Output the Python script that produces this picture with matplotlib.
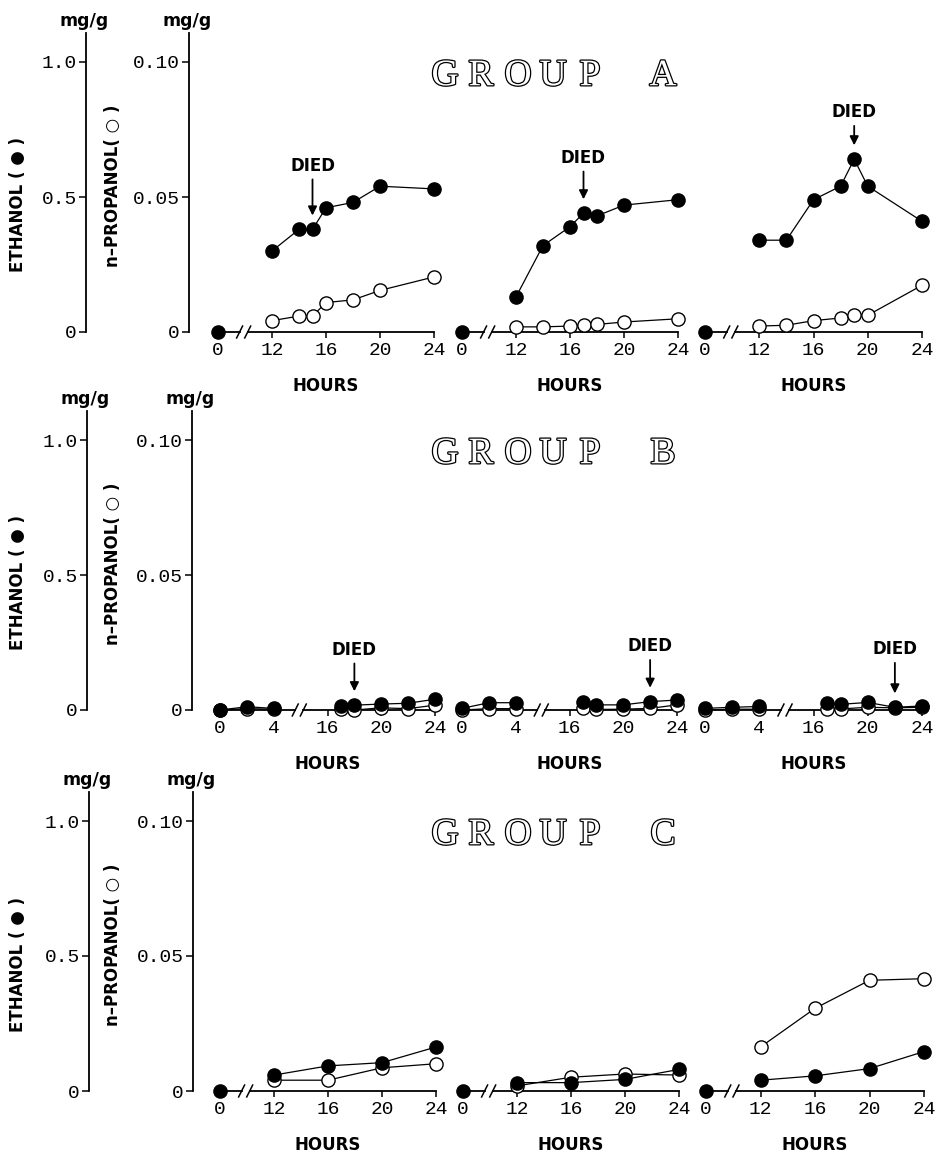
import numpy as np
import matplotlib
matplotlib.use("Agg")
import matplotlib.pyplot as plt
from matplotlib import patheffects
from matplotlib.transforms import offset_copy

# ---- data (hours, mg/g) ----
groups = ["A", "B", "C"]

eth_hours = [
    [[0, 12, 14, 15, 16, 18, 20, 24], [0, 12, 14, 16, 17, 18, 20, 24], [0, 12, 14, 16, 18, 19, 20, 24]],
    [[0, 2, 4, 17, 18, 20, 22, 24], [0, 2, 4, 17, 18, 20, 22, 24], [0, 2, 4, 17, 18, 20, 22, 24]],
    [[0, 12, 16, 20, 24], [0, 12, 16, 20, 24], [0, 12, 16, 20, 24]],
]
eth_vals = [
    [[0, 0.30, 0.38, 0.38, 0.46, 0.48, 0.54, 0.53],
     [0, 0.13, 0.32, 0.39, 0.44, 0.43, 0.47, 0.49],
     [0, 0.34, 0.34, 0.49, 0.54, 0.64, 0.54, 0.41]],
    [[0, 0.012, 0.006, 0.015, 0.018, 0.022, 0.025, 0.040],
     [0.006, 0.027, 0.027, 0.031, 0.019, 0.019, 0.031, 0.037],
     [0.006, 0.010, 0.013, 0.025, 0.021, 0.028, 0.010, 0.015]],
    [[0, 0.059, 0.093, 0.105, 0.163],
     [0, 0.031, 0.031, 0.043, 0.080],
     [0, 0.040, 0.056, 0.083, 0.146]],
]
prop_hours = [
    [[12, 14, 15, 16, 18, 20, 24], [12, 14, 16, 17, 18, 20, 24], [12, 14, 16, 18, 19, 20, 24]],
    [[0, 2, 4, 17, 18, 20, 22, 24], [0, 2, 4, 17, 18, 20, 22, 24], [0, 2, 4, 17, 18, 20, 22, 24]],
    [[12, 16, 20, 24], [12, 16, 20, 24], [12, 16, 20, 24]],
]
prop_vals = [
    [[0.0042, 0.0059, 0.0059, 0.0109, 0.0119, 0.0154, 0.0204],
     [0.0019, 0.0019, 0.0022, 0.0027, 0.0028, 0.0037, 0.0049],
     [0.0022, 0.0025, 0.0042, 0.0052, 0.0062, 0.0062, 0.0173]],
    [[0, 0.0005, 0.0003, 0.0005, 0.0, 0.0008, 0.0005, 0.0018],
     [0, 0.0005, 0.0005, 0.0006, 0.0002, 0.0003, 0.0006, 0.0019],
     [0, 0.0003, 0.0003, 0.0004, 0.0004, 0.0010, 0.0008, 0.0010]],
    [[0.0040, 0.0040, 0.0086, 0.0101],
     [0.0019, 0.0051, 0.0063, 0.0059],
     [0.0163, 0.0306, 0.0410, 0.0416]],
]
died_hours = [[15, 17, 19], [18, 22, 22], [None, None, None]]
tick_hours = [[0, 12, 16, 20, 24], [0, 4, 16, 20, 24], [0, 12, 16, 20, 24]]
break_hour = [1.9, 5.9, 1.9]

# ---- layout (pixels) ----
W, H = 936, 1163
zero_px = [332, 710, 1091]
px_per_unit = 2700.0          # pixels per 1 mg/g of n-propanol
span_px = 299
YTOP = span_px / px_per_unit
x0_px = [[218, 462, 705], [220, 462, 705], [220, 463, 706]]
x24_px = [[434, 678, 922], [435, 677, 922], [436, 679, 924]]
eth_spine_x = [86, 87, 89]
prop_spine_x = [189, 192, 193]
title_x = [445, 481, 518, 553, 590, 663]
died_gap = [[46, 40, 34], [40, 40, 42], [40, 40, 40]]   # label height above point, pt

MONO = "Liberation Mono"
SANS = "DejaVu Sans"

fig = plt.figure(figsize=(W / 100, H / 100), dpi=100)


def rect(left, right, top, bottom):
    return [left / W, 1 - bottom / H, (right - left) / W, (bottom - top) / H]


def to_u(h):
    h = np.asarray(h, dtype=float)
    return np.where(h < 8, h, h - 8)


def segments(h, v):
    h = np.asarray(h, dtype=float)
    v = np.asarray(v, dtype=float)
    cut = np.where(np.diff(h) >= 8)[0] + 1
    return zip(np.split(h, cut), np.split(v, cut))


for g, name in enumerate(groups):
    z = zero_px[g]
    top = z - span_px

    # ethanol and n-propanol scales
    for sx, lim, ticks, labs in [
        (eth_spine_x[g], YTOP * 10, [0, 0.5, 1.0], ["0", "0.5", "1.0"]),
        (prop_spine_x[g], YTOP, [0, 0.05, 0.10], ["0", "0.05", "0.10"]),
    ]:
        ax = fig.add_axes(rect(sx, sx + 1, top, z))
        ax.patch.set_visible(False)
        for s in ["top", "right", "bottom"]:
            ax.spines[s].set_visible(False)
        ax.spines["left"].set_linewidth(1.3)
        ax.set_ylim(0, lim)
        ax.set_xticks([])
        ax.set_yticks(ticks)
        ax.set_yticklabels(labs, fontfamily=MONO, fontsize=14)
        ax.tick_params(axis="y", direction="out", length=5, width=1.1, pad=1.5)
        fig.text((sx - 2) / W, 1 - (top - 12) / H, "mg/g", ha="center", va="center",
                 fontfamily=SANS, fontweight="bold", fontsize=12.5)

    fig.text(18 / W, 1 - (z - 127) / H, "ETHANOL ( \u25cf )", rotation=90,
             ha="center", va="center", fontfamily=SANS, fontweight="bold", fontsize=12)
    fig.text(113 / W, 1 - (z - 146) / H, "n\u2013PROPANOL( \u25cb )", rotation=90,
             ha="center", va="center", fontfamily=SANS, fontweight="bold", fontsize=12)

    # group title in outline letters
    for ch, tx in zip("GROUP" + name, title_x):
        fig.text(tx / W, 1 - (z - 256) / H, ch, ha="center", va="center",
                 fontfamily="Liberation Serif", fontsize=27, color="white",
                 path_effects=[patheffects.withStroke(linewidth=1.8, foreground="black")])

    for p in range(3):
        ppu = (x24_px[g][p] - x0_px[g][p]) / 16.0
        left = x0_px[g][p] - 1.2 * ppu
        right = x24_px[g][p] + 0.8 * ppu
        ax = fig.add_axes(rect(left, right, top, z))
        ax.patch.set_visible(False)
        ax.set_xlim(-1.2, 16.8)
        ax.set_ylim(0, YTOP)
        for s in ["top", "right", "left"]:
            ax.spines[s].set_visible(False)
        bu = float(to_u(break_hour[g]))
        ax.spines["bottom"].set_bounds(bu + 0.3, 16)
        ax.spines["bottom"].set_linewidth(1.3)
        ax.plot([0, bu - 0.3], [0, 0], color="k", lw=1.3, clip_on=False, zorder=2)
        for dx in (-0.3, 0.3):
            ax.plot([bu + dx - 0.22, bu + dx + 0.22], [-0.0022, 0.0022],
                    color="k", lw=1.1, clip_on=False, zorder=2)
        ax.set_yticks([])
        ax.set_xticks(to_u(tick_hours[g]))
        ax.set_xticklabels([str(t) for t in tick_hours[g]], fontfamily=MONO, fontsize=14)
        ax.tick_params(axis="x", direction="out", length=4, width=1.1, pad=3)
        ax.text(8, -0.0200, "HOURS", ha="center", va="center",
                fontfamily=SANS, fontweight="bold", fontsize=12)

        for hh, vv in segments(prop_hours[g][p], prop_vals[g][p]):
            ax.plot(to_u(hh), vv, "-o", color="k", lw=0.9, ms=9.5, mfc="white",
                    mec="k", mew=1.0, clip_on=False, zorder=3)
        for hh, vv in segments(eth_hours[g][p], np.asarray(eth_vals[g][p]) * 0.1):
            ax.plot(to_u(hh), vv, "-o", color="k", lw=0.9, ms=9.5, mfc="k",
                    mec="k", clip_on=False, zorder=4)

        d = died_hours[g][p]
        if d is not None:
            yv = np.interp(d, eth_hours[g][p], eth_vals[g][p]) * 0.1
            xu = float(to_u(d))
            gap = died_gap[g][p]
            tip = offset_copy(ax.transData, fig=fig, x=0, y=10, units="points")
            tail = offset_copy(ax.transData, fig=fig, x=0, y=gap - 10, units="points")
            lab = offset_copy(ax.transData, fig=fig, x=0, y=gap, units="points")
            ax.annotate("", xy=(xu, yv), xycoords=tip, xytext=(xu, yv), textcoords=tail,
                        arrowprops=dict(arrowstyle="-|>", color="k", lw=1.3,
                                        mutation_scale=13, shrinkA=0, shrinkB=0))
            ax.text(xu, yv, "DIED", transform=lab, ha="center", va="center",
                    fontfamily=SANS, fontweight="bold", fontsize=12)

fig.savefig("out.png", dpi=100)
